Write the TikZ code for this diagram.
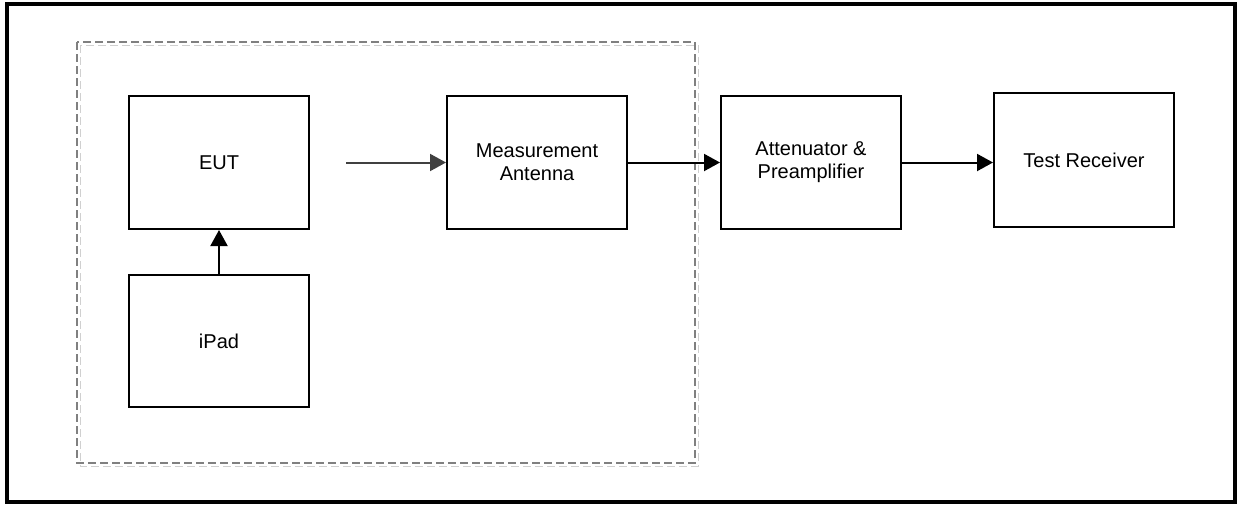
\documentclass[tikz,border=0pt]{standalone}
\usepackage{fontspec}
\setmainfont{Liberation Sans}
\usepackage{tikz}
\usetikzlibrary{arrows.meta, positioning}
\definecolor{frame-gray}{HTML}{808080}
\definecolor{shadow-gray}{HTML}{D0D0D0}
\definecolor{link-gray}{HTML}{404040}

\tikzset{
    unit/.style={draw, line width=2pt, minimum width=180pt, minimum height=133pt,
        align=center, font=\fontsize{20}{23}\selectfont},
    feed/.style={line width=2pt, -{Triangle[length=16pt, width=17pt]}},
}

\begin{document}
\begin{tikzpicture}[x=1pt, y=-1pt]
    \useasboundingbox (0,0) rectangle (1238,504);

    % Outer frame
    \draw[line width=4pt] (6.5,4) rectangle (1235,502);

    % Test area (dashed)
    \draw[shadow-gray, dashed, dash pattern=on 8pt off 4pt] (80,45) rectangle (698,466);
    \draw[frame-gray, line width=1.2pt, dash pattern=on 8pt off 4pt] (77,42) rectangle (695,463);

    % Blocks
    \node[unit] (eut) at (219,162.5) {EUT};
    \node[unit, minimum height=132pt] (ipad) at (219,341) {iPad};
    \node[unit] (antenna) at (537,162.5) {Measurement\\Antenna};
    \node[unit] (atten) at (811,162.5) {Attenuator \&\\Preamplifier};
    \node[unit, minimum height=134pt] (receiver) at (1084,160) {Test Receiver};

    % Links
    \coordinate (radiated) at (346,162.5);
    \draw[feed, link-gray] (radiated) -- (antenna.west);
    \draw[feed] (ipad.north) -- (eut.south);
    \draw[feed] (antenna.east) -- (atten.west);
    \draw[feed] (atten.east) -- (atten.east -| receiver.west);
\end{tikzpicture}
\end{document}
